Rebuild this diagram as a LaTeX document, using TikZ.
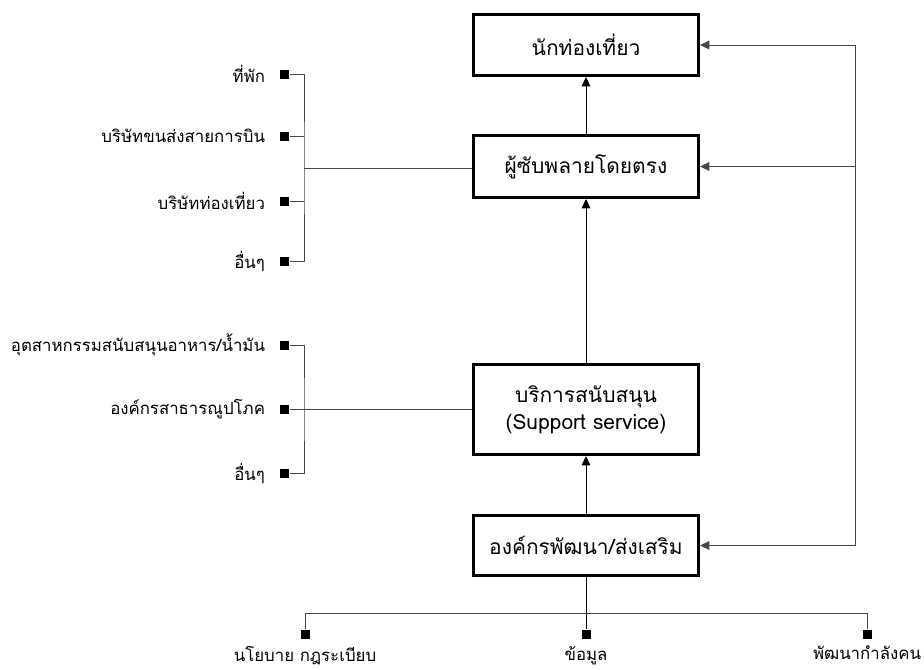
\documentclass[tikz,border=0pt]{standalone}
\usepackage{fontspec}
\setmainfont[Script=Thai]{Loma}
\usetikzlibrary{arrows.meta,positioning}

\tikzset{every picture/.style={line width=0.75pt}}
\tikzset{
	stagebox/.style={draw,line width=2.25pt,minimum width=168.75pt,inner sep=0pt,align=center,font=\fontsize{15.7}{20}\selectfont},
	dotsq/.style={fill=black,minimum size=6.75pt,inner sep=0pt},
	itemlbl/.style={inner sep=0pt,font=\fontsize{12.6}{15}\selectfont},
	thinln/.style={draw=black!72},
	tipup/.style={-{Triangle[length=7pt,width=6.5pt]}}
}

\begin{document}
\begin{tikzpicture}[x=0.75pt,y=0.75pt,yscale=-1,xscale=1]
				\useasboundingbox (0,0) rectangle (924,669);
				%Shape: Rectangle [id:stage boxes]
				\node [stagebox,minimum height=45.75pt] (tourist) at (586,45) {นักท่องเที่ยว};
				\node [stagebox,minimum height=46.5pt] (direct) at (586,166.5) {ผู้ซับพลายโดยตรง};
				\node [stagebox,minimum height=67.5pt] (support) at (586,409.5) {บริการสนับสนุน\\(Support service)};
				\node [stagebox,minimum height=45pt] (promote) at (586,545.5) {องค์กรพัฒนา/ส่งเสริม};
				
				%Straight Lines [id:central arrows]
				\draw [tipup] (direct) -- (tourist);
				\draw [tipup] (support) -- (direct);
				\draw [tipup] (promote) -- (support);
				
				%Shape: Square [id:direct suppliers]
				\node [dotsq] (sqa) at (284.5,74) {};
				\node [dotsq] (sqb) at (284.5,136) {};
				\node [dotsq] (sqc) at (284.5,201) {};
				\node [dotsq] (sqd) at (284.5,261) {};
				\coordinate (jna) at (304,168);
				% Text Node
				\node [itemlbl,left=10.5pt of sqa] (lbla) {ที่พัก};
				\node [itemlbl,left=10.5pt of sqb] (lblb) {บริษัทขนส่งสายการบิน};
				\node [itemlbl,left=10.5pt of sqc] (lblc) {บริษัทท่องเที่ยว};
				\node [itemlbl,left=10.5pt of sqd] (lbld) {อื่นๆ};
				%Straight Lines [id:bracket a]
				\draw [thinln] (sqa) -| (jna) |- (sqd);
				\draw [thinln] (sqb) -- (sqb -| jna);
				\draw [thinln] (sqc) -- (sqc -| jna);
				\draw [thinln] (jna) -- (jna -| direct.west);
				
				%Shape: Square [id:support services]
				\node [dotsq] (sqe) at (284.5,345) {};
				\node [dotsq] (sqf) at (284.5,409.5) {};
				\node [dotsq] (sqg) at (284.5,473) {};
				\coordinate (jnb) at (304,409.5);
				% Text Node
				\node [itemlbl,left=10.5pt of sqe] (lble) {อุตสาหกรรมสนับสนุนอาหาร/น้ำมัน};
				\node [itemlbl,left=10.5pt of sqf] (lblf) {องค์กรสาธารณูปโภค};
				\node [itemlbl,left=10.5pt of sqg] (lblg) {อื่นๆ};
				%Straight Lines [id:bracket b]
				\draw [thinln] (sqe) -| (jnb) |- (sqg);
				\draw [thinln] (sqf) -- (support);
				
				%Shape: Square [id:promotion inputs]
				\node [dotsq] (sqh) at (305,634) {};
				\node [dotsq] (sqi) at (586,634) {};
				\node [dotsq] (sqj) at (867,634) {};
				\coordinate (jnc) at (586,613);
				% Text Node
				\node [itemlbl,below=5pt of sqh] (lblh) {นโยบาย กฎระเบียบ};
				\node [itemlbl,below=5pt of sqi] (lbli) {ข้อมูล};
				\node [itemlbl,below=5pt of sqj] (lblj) {พัฒนากำลังคน};
				%Straight Lines [id:bracket c]
				\draw (promote) -- (sqi);
				\draw [thinln] (sqh) |- (jnc) -| (sqj);
				
				%Straight Lines [id:feedback]
				\coordinate (fbt) at (855,45);
				\coordinate (fbb) at (855,545.5);
				\draw [thinln] (fbb) -- (fbt);
				\draw [thinln,tipup] (fbt) -- (tourist);
				\draw [thinln,tipup] (fbt |- direct) -- (direct);
				\draw [thinln,tipup] (fbb) -- (promote);
\end{tikzpicture}
\end{document}
